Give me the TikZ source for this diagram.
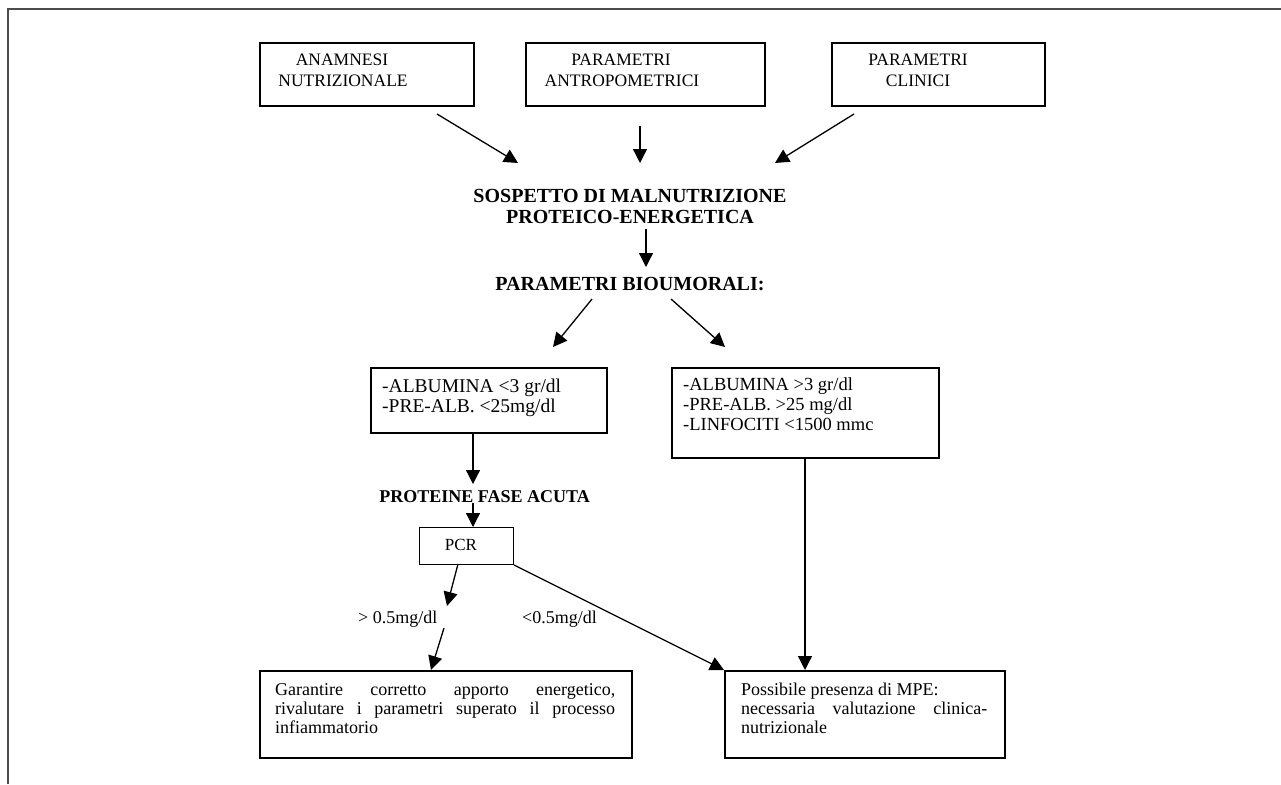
\documentclass[tikz,border=0pt]{standalone}
\usepackage{fontspec}
\setmainfont{Liberation Serif}
\usetikzlibrary{arrows.meta}
\begin{document}
\begin{tikzpicture}[x=1pt,y=-1pt,
  box/.style={draw, line width=2.2pt, inner sep=0pt, anchor=north west},
  thinbox/.style={draw, line width=1pt, inner sep=0pt, anchor=north west},
  arr/.style={-{Triangle[length=14pt,width=14pt]}, line width=1.3pt},
  topt/.style={inner sep=0pt, anchor=base, font=\fontsize{17.5}{20}\selectfont},
  head/.style={inner sep=0pt, anchor=base, font=\fontsize{20}{22}\selectfont\bfseries},
  lt/.style={inner sep=0pt, anchor=base west, font=\fontsize{19.5}{20}\selectfont},
  rt/.style={inner sep=0pt, anchor=base west, font=\fontsize{18.5}{20}\selectfont},
  bt/.style={inner sep=0pt, anchor=base west, font=\fontsize{18}{19}\selectfont},
  frame/.style={draw=black!70, line width=1.5pt}]
\useasboundingbox (0,0) rectangle (1281,784);
\fill[white] (0,0) rectangle (1281,784);
\draw[frame] (8,784) -- (8,9) -- (1281,9);

% top boxes
\node[box, minimum width=214pt, minimum height=63pt] (b1) at (259,42) {};
\node[box, minimum width=239pt, minimum height=63pt] (b2) at (525,42) {};
\node[box, minimum width=213pt, minimum height=63pt] (b3) at (831,42) {};
\node[topt] (t1a) at (342,66) {ANAMNESI};
\node[topt] (t1b) at (343,86) {NUTRIZIONALE};
\node[topt] (t2a) at (621,66) {PARAMETRI};
\node[topt] (t2b) at (622,86) {ANTROPOMETRICI};
\node[topt] (t3a) at (918,66) {PARAMETRI};
\node[topt] (t3b) at (918,86) {CLINICI};

% headings
\node[head] (s1) at (630,202) {SOSPETTO DI MALNUTRIZIONE};
\node[head] (s2) at (630,223) {PROTEICO-ENERGETICA};
\node[head] (pb) at (630,290) {PARAMETRI BIOUMORALI:};

\coordinate (a1s) at (437,114); \coordinate (a1e) at (518,163);
\coordinate (a2s) at (640,126); \coordinate (a2e) at (640,163);
\coordinate (a3s) at (854,114); \coordinate (a3e) at (775,163);
\draw[arr] (a1s) -- (a1e);
\draw[arr] (a2s) -- (a2e);
\draw[arr] (a3s) -- (a3e);
\coordinate (a4s) at (646,229); \coordinate (a4e) at (646,267);
\draw[arr] (a4s) -- (a4e);
\coordinate (a5s) at (592,299); \coordinate (a5e) at (553,347);
\coordinate (a6s) at (671,299); \coordinate (a6e) at (725,347);
\draw[arr] (a5s) -- (a5e);
\draw[arr] (a6s) -- (a6e);

% middle boxes
\node[box, minimum width=236pt, minimum height=65pt] (b4) at (370,367) {};
\node[lt] (l4a) at (382,392) {-ALBUMINA <3 gr/dl};
\node[lt] (l4b) at (382,412) {-PRE-ALB. <25mg/dl};
\node[box, minimum width=267pt, minimum height=90pt] (b5) at (671,367) {};
\node[rt] (l5a) at (683,390) {-ALBUMINA >3 gr/dl};
\node[rt] (l5b) at (683,410) {-PRE-ALB. >25 mg/dl};
\node[rt] (l5c) at (683,430) {-LINFOCITI <1500 mmc};

\node[inner sep=0pt, anchor=base east, font=\fontsize{18}{20}\selectfont\bfseries] (pf) at (590,502) {PROTEINE FASE ACUTA};
\coordinate (a7e) at (473,484);
\draw[arr] (b4.south -| a7e) -- (a7e);
\node[thinbox, minimum width=94pt, minimum height=37pt] (pcr) at (419,527) {};
\node[inner sep=0pt, anchor=base, font=\fontsize{17}{19}\selectfont] (pcrt) at (461,550) {PCR};
\coordinate (a8s) at (473,503);
\draw[arr] (a8s) -- (pcr.north -| a8s);

% branches
\node[bt] (g1) at (358,623) {> 0.5mg/dl};
\node[bt] (g2) at (522,623) {<0.5mg/dl};
\coordinate (a9s) at (458,564); \coordinate (a9e) at (447,606);
\draw[arr] (a9s) -- (a9e);
\coordinate (a10s) at (444,628); \coordinate (a10e) at (431,670);
\draw[arr] (a10s) -- (a10e);

% bottom boxes
\node[box, minimum width=372pt, minimum height=87pt] (b6) at (259,670) {};
\node[bt] (l6a) at (275,695) {\makebox[340pt][s]{Garantire corretto apporto energetico,}};
\node[bt] (l6b) at (275,714) {\makebox[340pt][s]{rivalutare i parametri superato il processo}};
\node[bt] (l6c) at (275,733) {infiammatorio};
\node[box, minimum width=280pt, minimum height=87pt] (b7) at (724,670) {};
\node[bt] (l7a) at (741,695) {Possibile presenza di MPE:};
\node[bt] (l7b) at (741,714) {\makebox[246pt][s]{necessaria valutazione clinica-}};
\node[bt] (l7c) at (741,733) {nutrizionale};

\draw[arr] (pcr.south east) -- (b7.north west);
\coordinate (v5) at (805,457);
\draw[arr] (v5) -- (b7.north -| v5);
\end{tikzpicture}
\end{document}
